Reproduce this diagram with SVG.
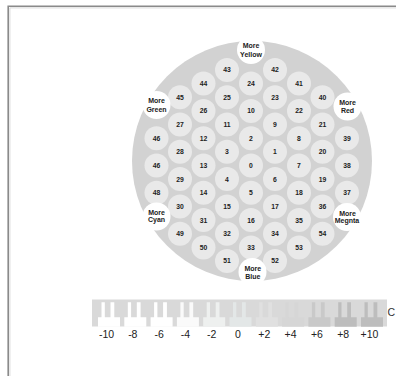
<svg xmlns="http://www.w3.org/2000/svg" xmlns:xlink="http://www.w3.org/1999/xlink" width="396" height="376" viewBox="0 0 396 376">
<style>
.n circle{fill:#e9e9e9}
.n text{font-family:"Liberation Sans",Arial,sans-serif;font-size:6.8px;font-weight:bold;fill:#222;text-anchor:middle}
.m circle{fill:#ffffff}
.m text{font-family:"Liberation Sans",Arial,sans-serif;font-size:7px;font-weight:bold;fill:#222;text-anchor:middle}
.lab{font-family:"Liberation Sans",Arial,sans-serif;font-size:10.5px;fill:#222;text-anchor:middle}
</style>
<defs>
<path id="seg" d="M0 15 H3.5 V0 H6.8 V15 H12.5 V0 H16.3 V15 H22 V24.5 H0 Z"/>
</defs>
<rect width="396" height="376" fill="#ffffff"/>
<g id="frame">
<path d="M8.2 376 V6.2 H396" fill="none" stroke="#8a8a8a" stroke-width="1.6"/>
<path d="M9.9 376 V7.9 H396" fill="none" stroke="#d0d0d0" stroke-width="0.8"/>
</g>
<g id="disc"><circle cx="252" cy="161" r="120" fill="#d2d2d2"/></g>
<g id="connectors"></g>
<g id="nodes">
<g id="n24" class="n"><circle cx="251" cy="83.6" r="12"/><text x="251" y="86">24</text></g>
<g id="n10" class="n"><circle cx="251" cy="110.9" r="12"/><text x="251" y="113.3">10</text></g>
<g id="n2" class="n"><circle cx="251" cy="138.2" r="12"/><text x="251" y="140.6">2</text></g>
<g id="n0" class="n"><circle cx="251" cy="165.5" r="12"/><text x="251" y="167.9">0</text></g>
<g id="n5" class="n"><circle cx="251" cy="192.8" r="12"/><text x="251" y="195.2">5</text></g>
<g id="n16" class="n"><circle cx="251" cy="220.1" r="12"/><text x="251" y="222.5">16</text></g>
<g id="n33" class="n"><circle cx="251" cy="247.4" r="12"/><text x="251" y="249.8">33</text></g>

<g id="n43" class="n"><circle cx="227" cy="69.9" r="12"/><text x="227" y="72.3">43</text></g>
<g id="n25" class="n"><circle cx="227" cy="97.2" r="12"/><text x="227" y="99.6">25</text></g>
<g id="n11" class="n"><circle cx="227" cy="124.5" r="12"/><text x="227" y="126.9">11</text></g>
<g id="n3" class="n"><circle cx="227" cy="151.8" r="12"/><text x="227" y="154.2">3</text></g>
<g id="n4" class="n"><circle cx="227" cy="179.1" r="12"/><text x="227" y="181.5">4</text></g>
<g id="n15" class="n"><circle cx="227" cy="206.4" r="12"/><text x="227" y="208.8">15</text></g>
<g id="n32" class="n"><circle cx="227" cy="233.7" r="12"/><text x="227" y="236.1">32</text></g>
<g id="n51" class="n"><circle cx="227" cy="261" r="12"/><text x="227" y="263.4">51</text></g>

<g id="n42" class="n"><circle cx="275" cy="69.9" r="12"/><text x="275" y="72.3">42</text></g>
<g id="n23" class="n"><circle cx="275" cy="97.2" r="12"/><text x="275" y="99.6">23</text></g>
<g id="n9" class="n"><circle cx="275" cy="124.5" r="12"/><text x="275" y="126.9">9</text></g>
<g id="n1" class="n"><circle cx="275" cy="151.8" r="12"/><text x="275" y="154.2">1</text></g>
<g id="n6" class="n"><circle cx="275" cy="179.1" r="12"/><text x="275" y="181.5">6</text></g>
<g id="n17" class="n"><circle cx="275" cy="206.4" r="12"/><text x="275" y="208.8">17</text></g>
<g id="n34" class="n"><circle cx="275" cy="233.7" r="12"/><text x="275" y="236.1">34</text></g>
<g id="n52" class="n"><circle cx="275" cy="261" r="12"/><text x="275" y="263.4">52</text></g>

<g id="n44" class="n"><circle cx="203.5" cy="83.6" r="12"/><text x="203.5" y="86">44</text></g>
<g id="n26" class="n"><circle cx="203.5" cy="110.9" r="12"/><text x="203.5" y="113.3">26</text></g>
<g id="n12" class="n"><circle cx="203.5" cy="138.2" r="12"/><text x="203.5" y="140.6">12</text></g>
<g id="n13" class="n"><circle cx="203.5" cy="165.5" r="12"/><text x="203.5" y="167.9">13</text></g>
<g id="n14" class="n"><circle cx="203.5" cy="192.8" r="12"/><text x="203.5" y="195.2">14</text></g>
<g id="n31" class="n"><circle cx="203.5" cy="220.1" r="12"/><text x="203.5" y="222.5">31</text></g>
<g id="n50" class="n"><circle cx="203.5" cy="247.4" r="12"/><text x="203.5" y="249.8">50</text></g>

<g id="n41" class="n"><circle cx="299" cy="83.6" r="12"/><text x="299" y="86">41</text></g>
<g id="n22" class="n"><circle cx="299" cy="110.9" r="12"/><text x="299" y="113.3">22</text></g>
<g id="n8" class="n"><circle cx="299" cy="138.2" r="12"/><text x="299" y="140.6">8</text></g>
<g id="n7" class="n"><circle cx="299" cy="165.5" r="12"/><text x="299" y="167.9">7</text></g>
<g id="n18" class="n"><circle cx="299" cy="192.8" r="12"/><text x="299" y="195.2">18</text></g>
<g id="n35" class="n"><circle cx="299" cy="220.1" r="12"/><text x="299" y="222.5">35</text></g>
<g id="n53" class="n"><circle cx="299" cy="247.4" r="12"/><text x="299" y="249.8">53</text></g>

<g id="n45" class="n"><circle cx="180" cy="97.2" r="12"/><text x="180" y="99.6">45</text></g>
<g id="n27" class="n"><circle cx="180" cy="124.5" r="12"/><text x="180" y="126.9">27</text></g>
<g id="n28" class="n"><circle cx="180" cy="151.8" r="12"/><text x="180" y="154.2">28</text></g>
<g id="n29" class="n"><circle cx="180" cy="179.1" r="12"/><text x="180" y="181.5">29</text></g>
<g id="n30" class="n"><circle cx="180" cy="206.4" r="12"/><text x="180" y="208.8">30</text></g>
<g id="n49" class="n"><circle cx="180" cy="233.7" r="12"/><text x="180" y="236.1">49</text></g>

<g id="n40" class="n"><circle cx="322.5" cy="97.2" r="12"/><text x="322.5" y="99.6">40</text></g>
<g id="n21" class="n"><circle cx="322.5" cy="124.5" r="12"/><text x="322.5" y="126.9">21</text></g>
<g id="n20" class="n"><circle cx="322.5" cy="151.8" r="12"/><text x="322.5" y="154.2">20</text></g>
<g id="n19" class="n"><circle cx="322.5" cy="179.1" r="12"/><text x="322.5" y="181.5">19</text></g>
<g id="n36" class="n"><circle cx="322.5" cy="206.4" r="12"/><text x="322.5" y="208.8">36</text></g>
<g id="n54" class="n"><circle cx="322.5" cy="233.7" r="12"/><text x="322.5" y="236.1">54</text></g>

<g id="n46a" class="n"><circle cx="156.5" cy="138.2" r="12"/><text x="156.5" y="140.6">46</text></g>
<g id="n46b" class="n"><circle cx="156.5" cy="165.5" r="12"/><text x="156.5" y="167.9">46</text></g>
<g id="n48" class="n"><circle cx="156.5" cy="192.8" r="12"/><text x="156.5" y="195.2">48</text></g>

<g id="n39" class="n"><circle cx="347" cy="138.2" r="12"/><text x="347" y="140.6">39</text></g>
<g id="n38" class="n"><circle cx="347" cy="165.5" r="12"/><text x="347" y="167.9">38</text></g>
<g id="n37" class="n"><circle cx="347" cy="192.8" r="12"/><text x="347" y="195.2">37</text></g>

<g id="more-yellow" class="m"><circle cx="251" cy="50" r="14"/><text x="251" y="47.6">More</text><text x="251" y="56.6">Yellow</text></g>
<g id="more-green" class="m"><circle cx="156.5" cy="105" r="14"/><text x="156.5" y="103">More</text><text x="156.5" y="111.8">Green</text></g>
<g id="more-red" class="m"><circle cx="347.5" cy="106.5" r="14"/><text x="347.5" y="105">More</text><text x="347.5" y="112.6">Red</text></g>
<g id="more-cyan" class="m"><circle cx="156.5" cy="216.5" r="14"/><text x="156.5" y="214.8">More</text><text x="156.5" y="221.8">Cyan</text></g>
<g id="more-megnta" class="m"><circle cx="347" cy="217" r="14"/><text x="347.5" y="215.8">More</text><text x="347" y="223.2">Megnta</text></g>
<g id="more-blue" class="m"><circle cx="252.5" cy="272" r="14"/><text x="252.8" y="270.8">More</text><text x="252.8" y="278.5">Blue</text></g>
</g>
<g id="scale">
<rect x="92" y="299.5" width="295" height="27" fill="#d9d9d9"/>
<use href="#seg" xlink:href="#seg" x="98" y="302.2" fill="#ffffff"/>
<use href="#seg" xlink:href="#seg" x="124.3" y="302.2" fill="#ffffff"/>
<use href="#seg" xlink:href="#seg" x="150.6" y="302.2" fill="#ffffff"/>
<use href="#seg" xlink:href="#seg" x="176.9" y="302.2" fill="#fafafa"/>
<use href="#seg" xlink:href="#seg" x="203.2" y="302.2" fill="#eef0ef"/>
<use href="#seg" xlink:href="#seg" x="229.5" y="302.2" fill="#e3e7e7"/>
<use href="#seg" xlink:href="#seg" x="255.8" y="302.2" fill="#e0e0e0"/>
<use href="#seg" xlink:href="#seg" x="282.1" y="302.2" fill="#d6d6d6"/>
<use href="#seg" xlink:href="#seg" x="308.4" y="302.2" fill="#c9c9c9"/>
<use href="#seg" xlink:href="#seg" x="334.7" y="302.2" fill="#bdbdbd"/>
<use href="#seg" xlink:href="#seg" x="361" y="302.2" fill="#bdbdbd"/>
<text class="lab" x="106.5" y="337.5">-10</text>
<text class="lab" x="132.8" y="337.5">-8</text>
<text class="lab" x="159.1" y="337.5">-6</text>
<text class="lab" x="185.4" y="337.5">-4</text>
<text class="lab" x="211.7" y="337.5">-2</text>
<text class="lab" x="238" y="337.5">0</text>
<text class="lab" x="264.3" y="337.5">+2</text>
<text class="lab" x="290.6" y="337.5">+4</text>
<text class="lab" x="316.9" y="337.5">+6</text>
<text class="lab" x="343.2" y="337.5">+8</text>
<text class="lab" x="369.5" y="337.5">+10</text>
<text x="387.5" y="316" font-family="Liberation Sans, Arial, sans-serif" font-size="10.5" fill="#333">C</text>
</g>
</svg>
